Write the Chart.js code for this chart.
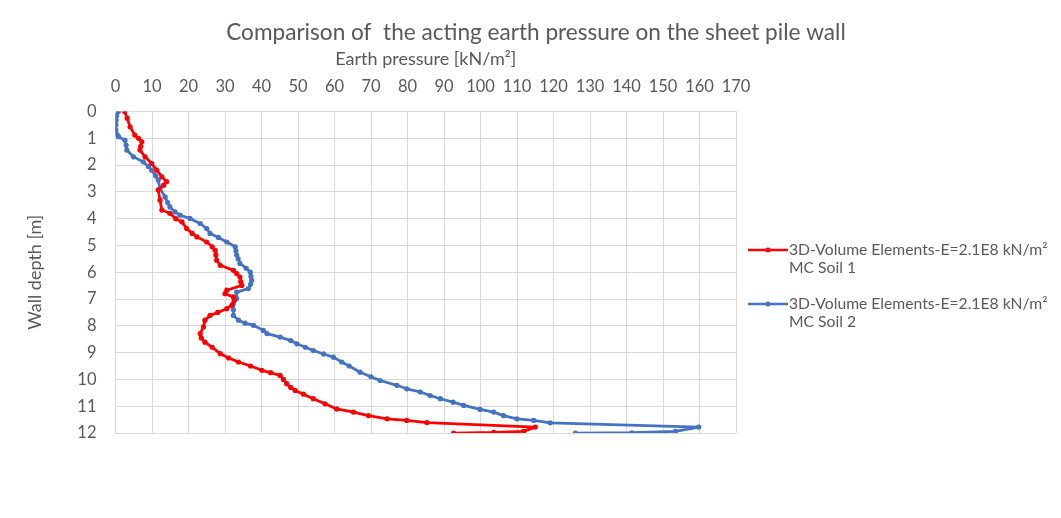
<!DOCTYPE html>
<html lang="en">
<head>
    <meta charset="UTF-8" />
    <title>Earth pressure on sheet pile wall</title>
    <script src="https://cdn.jsdelivr.net/npm/chart.js"></script>
    <style>
        body {
            margin: 0;
            background: #fff;
        }
        canvas {
            display: block;
        }
    </style>
</head>
<body>
    <canvas id="chart" width="1061" height="518"></canvas>

    <script>
        // Soil 1 (red): wall depth [m] and earth pressure [kN/m²]
        const depthSoil1 = [0.00, 0.25, 0.57, 0.88, 1.00, 1.13, 1.30, 1.44, 1.69, 1.94, 2.19, 2.44, 2.62, 2.75, 2.93,
            3.31, 3.68, 3.80, 4.00, 4.12, 4.37, 4.55, 4.68, 4.87, 5.05, 5.18, 5.36, 5.55, 5.74, 5.93, 6.05, 6.18,
            6.35, 6.49, 6.67, 6.80, 6.92, 7.05, 7.23, 7.36, 7.50, 7.61, 7.79, 8.04, 8.29, 8.45, 8.61, 8.80, 9.04,
            9.20, 9.35, 9.50, 9.66, 9.75, 9.85, 10.00, 10.16, 10.30, 10.41, 10.55, 10.72, 10.91, 11.10, 11.22,
            11.35, 11.47, 11.53, 11.61, 11.78, 11.94, 11.98, 12.00];
        const pressureSoil1 = [2.5, 3.2, 4.0, 5.3, 6.3, 7.2, 6.9, 6.7, 8.1, 9.9, 11.3, 12.7, 14.0, 13.2, 11.7,
            12.2, 12.7, 14.9, 16.5, 18.2, 19.5, 21.0, 22.3, 25.0, 26.5, 27.3, 27.5, 27.7, 28.7, 32.3, 33.2, 34.1,
            34.3, 34.6, 30.5, 30.0, 32.3, 32.5, 31.9, 30.5, 28.0, 25.9, 24.5, 24.1, 23.2, 23.5, 24.5, 26.5, 28.7,
            31.0, 33.7, 37.0, 40.1, 42.5, 45.1, 46.0, 46.9, 48.0, 49.2, 51.5, 54.2, 57.4, 60.6, 65.2,
            69.3, 74.4, 79.8, 85.3, 115.0, 111.8, 103.6, 92.6];

        // Soil 2 (blue)
        const depthSoil2 = [0.00, 0.15, 0.32, 0.50, 0.69, 0.85, 0.94, 1.07, 1.25, 1.44, 1.69, 1.88, 2.05, 2.19, 2.40,
            2.56, 2.87, 3.19, 3.40, 3.56, 3.75, 3.87, 3.99, 4.18, 4.37, 4.55, 4.70, 4.87, 5.05, 5.20, 5.36, 5.50,
            5.67, 5.85, 5.99, 6.15, 6.30, 6.45, 6.61, 6.74, 6.98, 7.17, 7.40, 7.61, 7.79, 7.90, 7.98, 8.17, 8.29,
            8.42, 8.55, 8.67, 8.80, 8.92, 9.05, 9.17, 9.35, 9.50, 9.73, 9.90, 10.04, 10.22, 10.35, 10.47, 10.60,
            10.72, 10.85, 10.97, 11.12, 11.22, 11.35, 11.47, 11.53, 11.62, 11.78, 11.94, 11.99, 12.00];
        const pressureSoil2 = [0.8, 0.3, 0.2, 0.1, 0.1, 0.4, 0.8, 2.6, 2.9, 3.1, 4.9, 7.6, 9.0, 9.9, 11.0,
            11.7, 12.2, 13.6, 14.3, 14.9, 16.3, 17.7, 20.4, 23.2, 25.0, 25.9, 28.2, 30.5, 32.8, 33.0, 33.2, 33.6,
            34.1, 35.8, 36.9, 37.1, 37.3, 37.0, 36.4, 33.2, 33.2, 32.3, 32.3, 32.3, 33.7, 35.5, 37.8, 40.5, 41.5,
            45.1, 48.0, 49.7, 52.0, 54.2, 57.0, 59.7, 62.0, 64.0, 67.0, 70.0, 72.5, 77.1, 79.8, 83.5, 86.2,
            89.0, 92.5, 95.4, 99.9, 103.6, 106.3, 110.0, 114.6, 119.1, 159.8, 153.4, 141.5, 126.0];

        const chartTitle = 'Comparison of  the acting earth pressure on the sheet pile wall';
        const seriesLabels = [
            ['3D-Volume Elements-E=2.1E8 kN/m²', 'MC Soil 1'],
            ['3D-Volume Elements-E=2.1E8 kN/m²', 'MC Soil 2']
        ];
        const seriesColors = ['#ff0000', '#4472c4'];

        const FONT = 'Lato, "Open Sans", sans-serif';
        const TEXT = '#595959';
        const GRID = '#d9d9d9';

        const toPoints = (depth, pressure) => depth.map((d, i) => ({ x: pressure[i], y: d }));

        // title centred over the whole canvas, plus two-line legend entries on the right
        const decorations = {
            id: 'decorations',
            afterDraw(chart) {
                const c = chart.ctx;
                c.save();
                c.fillStyle = TEXT;
                c.textBaseline = 'middle';
                c.textAlign = 'center';
                c.font = '22.6px ' + FONT;
                c.fillText(chartTitle, 536, 33);

                const rows = [250, 304];
                c.font = '15.7px ' + FONT;
                c.textAlign = 'left';
                rows.forEach((y, i) => {
                    c.strokeStyle = seriesColors[i];
                    c.fillStyle = seriesColors[i];
                    c.lineWidth = 2.5;
                    c.beginPath();
                    c.moveTo(748, y);
                    c.lineTo(788, y);
                    c.stroke();
                    c.beginPath();
                    c.arc(768, y, 2.5, 0, Math.PI * 2);
                    c.fill();
                    c.fillStyle = TEXT;
                    c.fillText(seriesLabels[i][0], 789, y);
                    c.fillText(seriesLabels[i][1], 789, y + 18);
                });
                c.restore();
            }
        };

        const ctx = document.getElementById('chart').getContext('2d');
        const chart = new Chart(ctx, {
            type: 'scatter',
            data: {
                datasets: [0, 1].map(i => ({
                    label: seriesLabels[i].join(' '),
                    data: i === 0 ? toPoints(depthSoil1, pressureSoil1) : toPoints(depthSoil2, pressureSoil2),
                    showLine: true,
                    borderColor: seriesColors[i],
                    backgroundColor: seriesColors[i],
                    borderWidth: 2.75,
                    borderJoinStyle: 'round',
                    pointRadius: 2.6,
                    pointBorderWidth: 0,
                    tension: 0
                }))
            },
            options: {
                responsive: false,
                animation: false,
                layout: { padding: { top: 45.2, left: 0, right: 325, bottom: 85 } },
                plugins: {
                    legend: { display: false },
                    tooltip: { enabled: false },
                    title: { display: false }
                },
                scales: {
                    x: {
                        type: 'linear',
                        position: 'top',
                        min: 0,
                        max: 170,
                        afterFit(s) { s.height = 111.5 - 45.2; },
                        ticks: { stepSize: 10, color: TEXT, font: { family: FONT, size: 16.5 }, padding: 15 },
                        grid: { color: GRID, drawTicks: false },
                        border: { color: GRID },
                        title: {
                            display: true,
                            text: 'Earth pressure [kN/m²]',
                            color: TEXT,
                            font: { family: FONT, size: 18 },
                            padding: { top: 3, bottom: 0 }
                        }
                    },
                    y: {
                        type: 'linear',
                        reverse: true,
                        min: 0,
                        max: 12,
                        afterFit(s) { s.width = 115.5; },
                        ticks: { stepSize: 1, color: TEXT, font: { family: FONT, size: 16.5 }, padding: 19 },
                        grid: { color: GRID, drawTicks: false },
                        border: { color: GRID },
                        title: {
                            display: true,
                            text: 'Wall depth [m]',
                            color: TEXT,
                            font: { family: FONT, size: 18 },
                            padding: { top: 24, bottom: 0 }
                        }
                    }
                }
            },
            plugins: [decorations]
        });
    </script>
</body>
</html>
